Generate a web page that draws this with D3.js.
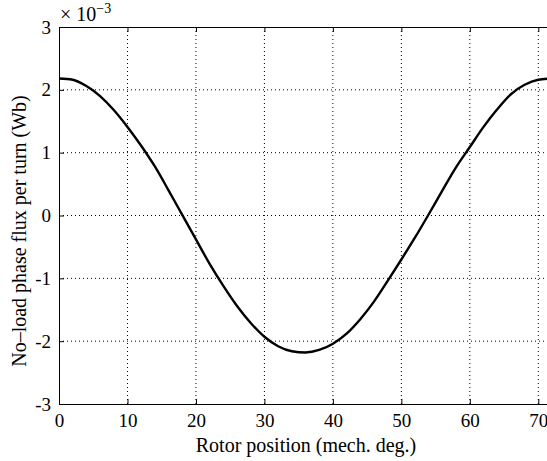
<!DOCTYPE html>
<html>
<head>
<meta charset="utf-8">
<script src="https://cdn.jsdelivr.net/npm/d3@7"></script>
<style>
  body { margin: 0; background: #fff; }
  svg { font-family: "Liberation Serif", "Times New Roman", serif; }
</style>
</head>
<body>
<div id="chart-area"></div>
<script>
// rotor position (mech. deg.)
var positions = [0, 2, 4, 6, 8, 10, 12, 14, 16, 18, 20, 22, 24, 26, 28, 30, 32, 34, 36,
	38, 40, 42, 44, 46, 48, 50, 52, 54, 56, 58, 60, 62, 64, 66, 68, 70, 72];
// flux per turn (x 1e-3 Wb)
var flux = [2.18, 2.16, 2.06, 1.90, 1.68, 1.41, 1.11, 0.78, 0.40, 0.01, -0.38, -0.77, -1.12,
	-1.44, -1.71, -1.93, -2.08, -2.16, -2.18, -2.14, -2.04, -1.88, -1.65, -1.37, -1.04,
	-0.70, -0.35, 0.02, 0.40, 0.77, 1.09, 1.41, 1.69, 1.93, 2.08, 2.16, 2.18];
var xTicks = [0, 10, 20, 30, 40, 50, 60, 70];
var yTicks = [-3, -2, -1, 0, 1, 2, 3];

var data = positions.map(function (p, i) { return { x: p, y: flux[i] }; });

var W = 547, H = 461;
var pLeft = 59, pTop = 27, pBottom = 404, pRight = 552;

var svg = d3.select("#chart-area")
	.append("svg")
	.attr("width", W)
	.attr("height", H);

var x = d3.scaleLinear().domain([0, 72]).range([pLeft, pRight]);
var y = d3.scaleLinear().domain([-3, 3]).range([pBottom, pTop]);

// Grid
var grid = svg.append("g").attr("class", "grid");
grid.selectAll("line.vx")
	.data(xTicks.filter(function (d) { return d > 0; }))
	.enter().append("line")
	.attr("x1", function (d) { return x(d); })
	.attr("x2", function (d) { return x(d); })
	.attr("y1", pTop).attr("y2", pBottom)
	.attr("stroke", "#000").attr("stroke-width", 1)
	.attr("stroke-dasharray", "1,3");
grid.selectAll("line.hy")
	.data(yTicks.filter(function (d) { return d > -3 && d < 3; }))
	.enter().append("line")
	.attr("x1", pLeft).attr("x2", W)
	.attr("y1", function (d) { return y(d); })
	.attr("y2", function (d) { return y(d); })
	.attr("stroke", "#000").attr("stroke-width", 1)
	.attr("stroke-dasharray", "1,3");

// Axes (inward ticks)
var xAxis = d3.axisBottom(x).tickValues(xTicks).tickSize(-5).tickPadding(10);
svg.append("g")
	.attr("transform", "translate(0," + pBottom + ")")
	.call(xAxis);

var xTop = d3.axisTop(x).tickValues(xTicks).tickSize(-5).tickFormat("");
svg.append("g")
	.attr("transform", "translate(0," + pTop + ")")
	.call(xTop);

var yAxis = d3.axisLeft(y).tickValues(yTicks).tickSize(-5).tickPadding(8)
	.tickFormat(function (d) { return d; });
svg.append("g")
	.attr("transform", "translate(" + pLeft + ",0)")
	.call(yAxis);

svg.selectAll(".domain").attr("stroke", "#000").attr("stroke-width", 1);
svg.selectAll(".tick line").attr("stroke", "#000");
svg.selectAll(".tick text")
	.attr("fill", "#000")
	.style("font-size", "19px")
	.style("font-family", "'Liberation Serif', serif");

// Curve
var line = d3.line()
	.x(function (d) { return x(d.x); })
	.y(function (d) { return y(d.y); })
	.curve(d3.curveMonotoneX);

svg.append("path")
	.datum(data)
	.attr("fill", "none")
	.attr("stroke", "#000")
	.attr("stroke-width", 2.4)
	.attr("d", line);

// Exponent label
var expo = svg.append("text")
	.attr("x", pLeft + 1)
	.attr("y", 21)
	.style("font-size", "20px");
expo.append("tspan").text("\u00d7 10");
expo.append("tspan")
	.attr("dy", -8)
	.style("font-size", "14px")
	.text("\u22123");

// X Label
svg.append("text")
	.attr("x", 306)
	.attr("y", 452)
	.attr("text-anchor", "middle")
	.style("font-size", "20px")
	.text("Rotor position (mech. deg.)");

// Y Label
svg.append("text")
	.attr("transform", "translate(26,231) rotate(-90)")
	.attr("text-anchor", "middle")
	.style("font-size", "20px")
	.text("No\u2013load phase flux per turn (Wb)");
</script>
</body>
</html>
